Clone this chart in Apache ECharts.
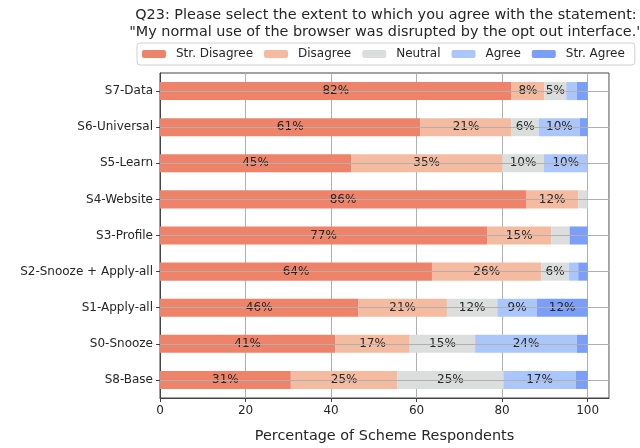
<!DOCTYPE html>
<html>
<head>
<meta charset="utf-8">
<script src="https://cdn.jsdelivr.net/npm/echarts@6/dist/echarts.min.js"></script>
<style>
  html, body { margin: 0; padding: 0; background: #fff; }
  #chart { width: 640px; height: 448px; }
</style>
</head>
<body>
<div id="chart"></div>
<script>
  // schemes, top to bottom
  const schemes = ['S7-Data', 'S6-Universal', 'S5-Learn', 'S4-Website', 'S3-Profile',
    'S2-Snooze + Apply-all', 'S1-Apply-all', 'S0-Snooze', 'S8-Base']

  const levels = ['Str. Disagree', 'Disagree', 'Neutral', 'Agree', 'Str. Agree']
  const colors = ['#EE836A', '#F5BBA0', '#DCDDDD', '#ABC6FB', '#7B9FF9']

  const strDisagree = [82.2, 60.9, 44.7, 85.6, 76.5, 63.6, 46.4, 41.0, 30.6]
  const disagree = [7.7, 21.3, 35.3, 12.2, 15.0, 25.6, 20.7, 17.4, 24.9]
  const neutral = [5.1, 6.4, 9.8, 2.2, 4.3, 6.4, 11.8, 15.3, 24.8]
  const agree = [2.5, 9.6, 10.2, 0, 0, 2.2, 9.2, 23.8, 16.9]
  const strAgree = [2.5, 1.8, 0, 0, 4.2, 2.2, 11.9, 2.5, 2.8]

  const xTicks = [0, 20, 40, 60, 80, 100]

  const values = [strDisagree, disagree, neutral, agree, strAgree]
  const font = 'DejaVu Sans'
  const textColor = '#262626'

  const chart = echarts.init(document.getElementById('chart'))

  const series = levels.map((name, i) => ({
    name: name,
    type: 'bar',
    stack: 'total',
    barWidth: '50%',
    data: values[i],
    itemStyle: { color: colors[i] },
    z: i === levels.length - 1 ? 3 : 2,
    label: {
      show: true,
      position: 'inside',
      color: textColor,
      fontFamily: font,
      fontSize: 12,
      formatter: p => (p.value >= 5 ? Math.round(p.value) + '%' : '')
    }
  }))

  // horizontal grid lines drawn over the bars at each scheme
  series[series.length - 1].markLine = {
    silent: true,
    symbol: 'none',
    label: { show: false },
    lineStyle: { color: '#b0b0b0', width: 1, type: 'solid' },
    data: schemes.map(s => ({ yAxis: s }))
  }

  chart.setOption({
    animation: false,
    title: {
      text: 'Q23: Please select the extent to which you agree with the statement:\n"My normal use of the browser was disrupted by the opt out interface."',
      left: 381,
      textAlign: 'center',
      top: 2,
      textStyle: {
        fontFamily: font,
        fontSize: 14.4,
        fontWeight: 'normal',
        color: textColor,
        lineHeight: 17
      }
    },
    legend: {
      data: levels,
      top: 43,
      left: 137,
      itemWidth: 24,
      itemHeight: 8,
      itemGap: 11,
      padding: [5, 10, 5, 5],
      borderColor: '#d0d0d0',
      borderWidth: 1,
      borderRadius: 3,
      textStyle: { fontFamily: font, fontSize: 12, color: textColor, padding: [0, 0, 0, 5] }
    },
    grid: {
      left: 160,
      right: 31,
      top: 73,
      bottom: 47,
      show: true,
      borderColor: '#444',
      borderWidth: 1
    },
    xAxis: {
      type: 'value',
      min: 0,
      max: 105,
      interval: 20,
      name: 'Percentage of Scheme Respondents',
      nameLocation: 'middle',
      nameGap: 31,
      nameTextStyle: { fontFamily: font, fontSize: 14.4, color: textColor },
      axisLine: { show: true, lineStyle: { color: '#444' } },
      axisTick: { show: true, length: 4, lineStyle: { color: '#444' } },
      axisLabel: {
        fontFamily: font,
        fontSize: 12,
        color: textColor,
        margin: 7,
        showMaxLabel: false,
        formatter: v => (xTicks.includes(v) ? String(v) : '')
      },
      splitLine: { show: true, lineStyle: { color: '#b0b0b0', width: 1 } }
    },
    yAxis: {
      type: 'category',
      data: schemes,
      inverse: true,
      axisLine: { show: true, lineStyle: { color: '#444' } },
      axisTick: { show: true, alignWithLabel: true, length: 4, lineStyle: { color: '#444' } },
      axisLabel: { fontFamily: font, fontSize: 12, color: textColor, margin: 7 },
      splitLine: { show: false }
    },
    series: series
  })

  window.addEventListener('resize', () => chart.resize())
</script>
</body>
</html>
